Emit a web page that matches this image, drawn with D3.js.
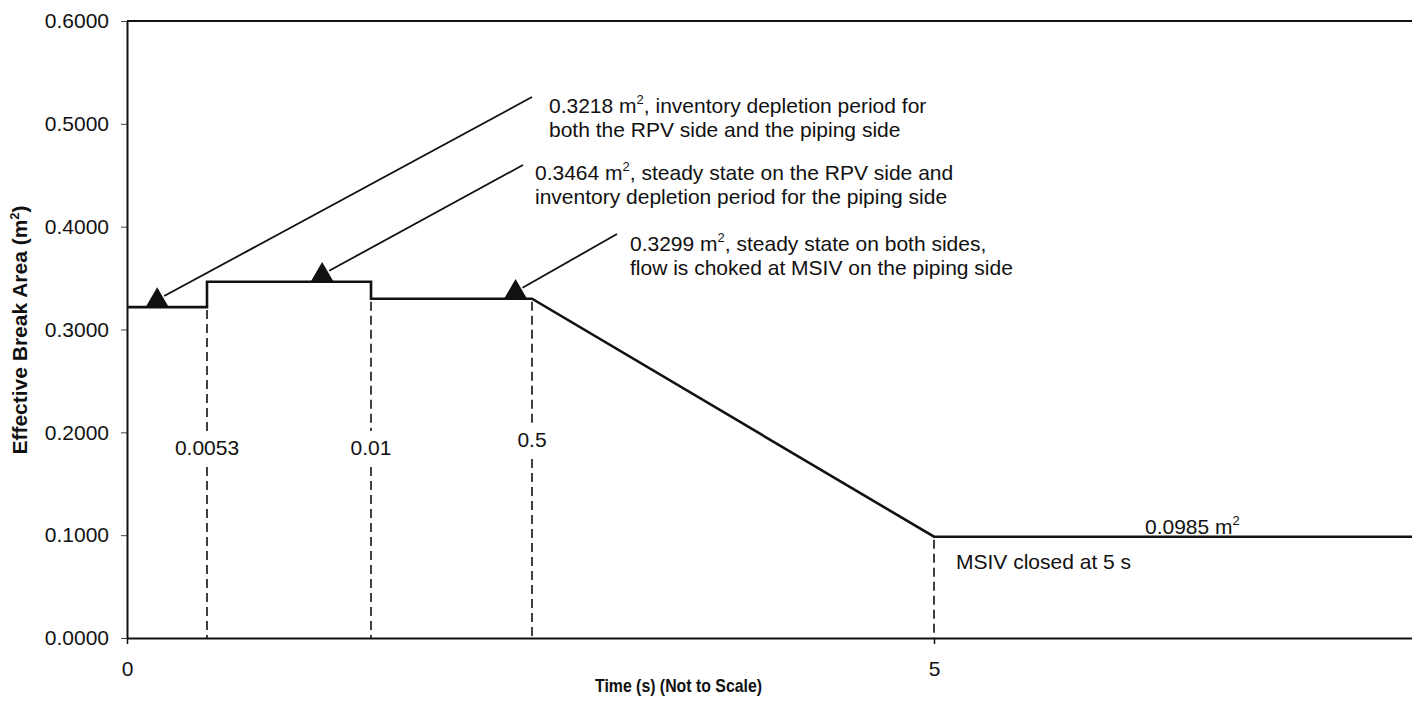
<!DOCTYPE html>
<html>
<head>
<meta charset="utf-8">
<script src="https://cdn.jsdelivr.net/npm/d3@7"></script>
<style>
  body { margin: 0; background: #fff; }
  svg text { font-family: "Liberation Sans", Arial, Helvetica, sans-serif; fill: #111; }
</style>
</head>
<body>
<svg id="chart" width="1412" height="718"></svg>
<script>
// break area vs time (x axis is not to scale)
var timeSteps = [0, 0.0053, 0.0053, 0.01, 0.01, 0.5, 5, 8];
var breakArea = [0.3218, 0.3218, 0.3464, 0.3464, 0.3299, 0.3299, 0.0985, 0.0985];

// x breakpoints of the piecewise (not to scale) axis
var xBreaks = [0, 0.0053, 0.01, 0.5, 5, 8];
var xTicks = [0, 5];
var yTicks = [0, 0.1, 0.2, 0.3, 0.4, 0.5, 0.6];

// marked times (dashed lines) and their labels
var markTimes = [0.0053, 0.01, 0.5, 5];
var markLevels = [0.3218, 0.3299, 0.3299, 0.0985];
var markLabels = ["0.0053", "0.01", "0.5", ""];

// triangle markers for the annotations
var triTimes = [0.002, 0.0086, 0.45];
var triValues = [0.3218, 0.3464, 0.3299];
var noteValue = ["0.3218", "0.3464", "0.3299"];
var noteRest = [", inventory depletion period for", ", steady state on the RPV side and", ", steady state on both sides,"];
var noteLine2 = ["both the RPV side and the piping side", "inventory depletion period for the piping side", "flow is choked at MSIV on the piping side"];

var svg = d3.select("#chart");
var fs = 21;

var x = d3.scaleLinear().domain(xBreaks).range([127, 207, 371, 532, 934, 1412]);
var y = d3.scaleLinear().domain([0, 0.6]).range([638, 21]);

// y axis
var ya = svg.append("g")
  .attr("transform", "translate(127,0)")
  .call(d3.axisLeft(y).tickValues(yTicks).tickFormat(d3.format(".4f")).tickSize(6).tickPadding(12).tickSizeOuter(0));
ya.selectAll("text").attr("font-size", fs).attr("font-family", "Liberation Sans").attr("fill", "#111");
ya.select(".domain").attr("stroke", "#111").attr("stroke-width", 2);
ya.selectAll(".tick line").attr("stroke", "#444").attr("stroke-width", 1);

// x axis
var xa = svg.append("g")
  .attr("transform", "translate(0,638)")
  .call(d3.axisBottom(x).tickValues(xTicks).tickFormat(d3.format("d")).tickSize(6).tickPadding(17).tickSizeOuter(0));
xa.selectAll("text").attr("font-size", fs).attr("font-family", "Liberation Sans").attr("fill", "#111");
xa.select(".domain").attr("stroke", "#111").attr("stroke-width", 2);
xa.selectAll(".tick line").attr("stroke", "#111").attr("stroke-width", 1.5);

// top frame line
svg.append("line")
  .attr("x1", x(0)).attr("x2", x(8))
  .attr("y1", y(0.6)).attr("y2", y(0.6))
  .attr("stroke", "#111").attr("stroke-width", 2);

// dashed markers
var labelBase = [455, 455, 447, 0];
markTimes.forEach(function(t, i) {
  var segs = [];
  if (markLabels[i]) {
    segs.push([y(markLevels[i]) + 3, labelBase[i] - 24]);
    segs.push([labelBase[i] + 12, y(0)]);
  } else {
    segs.push([y(markLevels[i]) + 3, y(0)]);
  }
  segs.forEach(function(s) {
    svg.append("line")
      .attr("x1", x(t)).attr("x2", x(t))
      .attr("y1", s[0]).attr("y2", s[1])
      .attr("stroke", "#111").attr("stroke-width", 1.6)
      .attr("stroke-dasharray", "9,5");
  });
  if (markLabels[i]) {
    svg.append("text")
      .attr("x", x(t)).attr("y", labelBase[i])
      .attr("text-anchor", "middle")
      .attr("font-size", fs)
      .text(markLabels[i]);
  }
});

// main curve
var pts = timeSteps.map(function(t, i) { return [t, breakArea[i]]; });
svg.append("path")
  .datum(pts)
  .attr("fill", "none")
  .attr("stroke", "#111")
  .attr("stroke-width", 2.6)
  .attr("d", d3.line().x(function(d) { return x(d[0]); }).y(function(d) { return y(d[1]); }));

// annotation arrows + triangles
var noteEnd = [[532, 97], [523, 165], [617, 234]];
var notePos = [[549, 113], [535, 180], [630, 251]];
triTimes.forEach(function(t, i) {
  var bx = x(t), by = y(triValues[i]);
  svg.append("line")
    .attr("x1", bx + 7).attr("y1", by - 11)
    .attr("x2", noteEnd[i][0]).attr("y2", noteEnd[i][1])
    .attr("stroke", "#111").attr("stroke-width", 1.8);
  svg.append("path")
    .attr("d", d3.symbol().type(d3.symbolTriangle).size(229)())
    .attr("transform", "translate(" + bx + "," + (by - 6.6) + ")")
    .attr("fill", "#111");
  var tx = svg.append("text")
    .attr("x", notePos[i][0]).attr("y", notePos[i][1])
    .attr("font-size", fs);
  tx.append("tspan").text(noteValue[i] + " m");
  tx.append("tspan").attr("dy", -9).attr("font-size", 13).text("2");
  tx.append("tspan").attr("dy", 9).text(noteRest[i]);
  svg.append("text")
    .attr("x", notePos[i][0]).attr("y", notePos[i][1] + 24)
    .attr("font-size", fs)
    .text(noteLine2[i]);
});

// end value label
var endTxt = svg.append("text").attr("x", 1145).attr("y", 534).attr("font-size", fs);
endTxt.append("tspan").text("0.0985 m");
endTxt.append("tspan").attr("dy", -9).attr("font-size", 13).text("2");

svg.append("text")
  .attr("x", 956).attr("y", 569)
  .attr("font-size", fs)
  .text("MSIV closed at 5 s");

// axis titles
svg.append("text")
  .attr("x", 595).attr("y", 692)
  .attr("font-weight", "bold")
  .attr("font-size", 19)
  .attr("textLength", 167)
  .attr("lengthAdjust", "spacingAndGlyphs")
  .text("Time (s) (Not to Scale)");

var yt = svg.append("text")
  .attr("transform", "translate(27,330) rotate(-90)")
  .attr("text-anchor", "middle")
  .attr("font-weight", "bold")
  .attr("font-size", 21);
yt.append("tspan").text("Effective Break Area (m");
yt.append("tspan").attr("dy", -8).attr("font-size", 13).text("2");
yt.append("tspan").attr("dy", 8).text(")");
</script>
</body>
</html>
